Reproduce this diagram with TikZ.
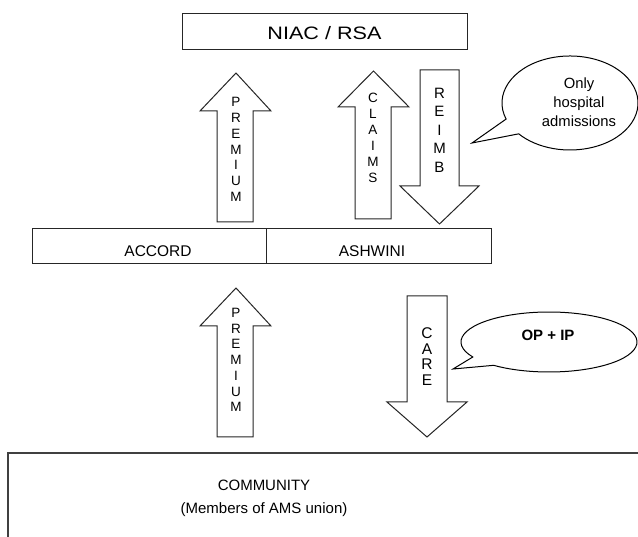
\documentclass[tikz,border=0pt]{standalone}
\usepackage{fontspec}
\setmainfont{Liberation Sans}
\begin{document}
\begin{tikzpicture}[x=1pt,y=-1pt,
  line join=miter,
  boxline/.style={draw=black!85,line width=1pt},
  blockarrow/.style={draw=black!85,line width=1pt,fill=white},
  bubble/.style={draw=black,line width=1pt,fill=white},
  vlabel/.style={align=center,inner sep=0pt,font=\fontsize{13.5}{15.8}\selectfont},
  txt/.style={inner sep=0pt,font=\fontsize{15.5}{18}\selectfont}]
\useasboundingbox (0,0) rectangle (638,537);

% top box
\draw[boxline] (182,14) rectangle (467,50);
\node[inner sep=0pt,font=\fontsize{18}{20}\selectfont] (niac) at (324.5,33) {\scalebox{1.2}[1]{NIAC / RSA}};

% middle boxes
\draw[boxline] (32,229) rectangle (491,264);
\draw[boxline] (266,229) -- (266,264);
\node[txt] (accord) at (158,251) {ACCORD};
\node[txt] (ashwini) at (372,251) {ASHWINI};

% community box
\draw[draw=black!75,line width=1.6pt] (8,540) -- (8,453) -- (641,453);
\node[txt,align=center,font=\fontsize{15}{23}\selectfont] (community) at (264,498) {COMMUNITY\\(Members of AMS union)};

% upper premium arrow
\draw[blockarrow] (217,222) -- (217,111) -- (200,111) -- (236,73) -- (271,111) -- (253,111) -- (253,222) -- cycle;
\node[vlabel] (prem1) at (236,149.5) {P\\R\\E\\M\\I\\U\\M};

% claims arrow
\draw[blockarrow] (355,219) -- (355,107) -- (338,107) -- (373.5,71) -- (409,107) -- (391,107) -- (391,219) -- cycle;
\node[vlabel,font=\fontsize{13.5}{16}\selectfont] (claims) at (373,138) {C\\L\\A\\I\\M\\S};

% reimb arrow
\draw[blockarrow] (420,70) -- (459,70) -- (459,186) -- (479,186) -- (439.5,224) -- (400,186) -- (420,186) -- cycle;
\node[vlabel,font=\fontsize{15}{18.5}\selectfont] (reimb) at (439.5,130) {R\\E\\I\\M\\B};

% lower premium arrow
\draw[blockarrow] (217,437) -- (217,326) -- (200,326) -- (236,288) -- (271,326) -- (253,326) -- (253,437) -- cycle;
\node[vlabel,font=\fontsize{13.5}{15.7}\selectfont] (prem2) at (236,360) {P\\R\\E\\M\\I\\U\\M};

% care arrow
\draw[blockarrow] (407,296) -- (447,296) -- (447,402) -- (467,402) -- (427,437) -- (387,402) -- (407,402) -- cycle;
\node[vlabel,font=\fontsize{15.5}{15.7}\selectfont] (care) at (427,356.5) {C\\A\\R\\E};

% top speech bubble
\coordinate (tail1) at (472,143);
\draw[bubble] (570,103) ++(160:68 and 47) arc[start angle=160,end angle=499,x radius=68,y radius=47] -- (tail1) -- cycle;
\node[align=center,inner sep=0pt,font=\fontsize{14.8}{19}\selectfont] (only) at (579,102) {Only\\hospital\\admissions};

% OP + IP bubble
\coordinate (tail2) at (453,369);
\draw[bubble] (549,342) ++(150:88 and 30) arc[start angle=150,end angle=489,x radius=88,y radius=30] -- (tail2) -- cycle;
\node[inner sep=0pt,font=\bfseries\fontsize{15}{18}\selectfont] (opip) at (548,335) {OP + IP};
\end{tikzpicture}
\end{document}
